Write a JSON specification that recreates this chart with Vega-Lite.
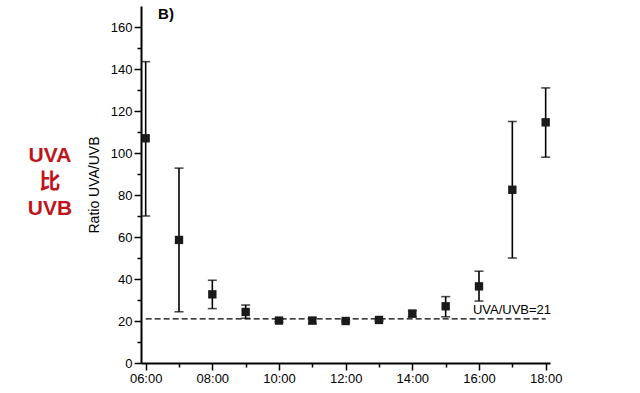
{
  "$schema": "https://vega.github.io/schema/vega-lite/v6.json",
  "autosize": "none",
  "width": 409,
  "height": 357,
  "padding": {"left": 141, "top": 6, "right": 90, "bottom": 30},
  "background": "white",
  "config": {
    "view": {"stroke": null},
    "font": "Liberation Sans",
    "axis": {"grid": false, "domainColor": "black", "domainWidth": 2, "tickColor": "black", "tickWidth": 1.5, "labelColor": "black", "labelFont": "Liberation Sans", "labelFontSize": 13, "titleColor": "black", "titleFont": "Liberation Sans", "titleFontWeight": "normal", "titleFontSize": 14}
  },
  "datasets": {
    "obs": [
      {"hour": 6, "ratio": 107, "lo": 70, "hi": 143.5},
      {"hour": 7, "ratio": 58.6, "lo": 24.4, "hi": 92.8},
      {"hour": 8, "ratio": 32.7, "lo": 25.9, "hi": 39.4},
      {"hour": 9, "ratio": 24.3, "lo": 21.3, "hi": 27.6},
      {"hour": 10, "ratio": 20.2, "lo": 19.6, "hi": 20.8},
      {"hour": 11, "ratio": 20.2, "lo": 18.8, "hi": 21.6},
      {"hour": 12, "ratio": 20.0, "lo": 19.5, "hi": 20.5},
      {"hour": 13, "ratio": 20.5, "lo": 20.0, "hi": 21.0},
      {"hour": 14, "ratio": 23.5, "lo": 22.0, "hi": 25.0},
      {"hour": 15, "ratio": 27.0, "lo": 22.0, "hi": 31.6},
      {"hour": 16, "ratio": 36.5, "lo": 29.5, "hi": 43.7},
      {"hour": 17, "ratio": 82.5, "lo": 50.0, "hi": 115.0},
      {"hour": 18, "ratio": 114.6, "lo": 98.0, "hi": 131.0}
    ],
    "ref": [
      {"hour": 6, "ratio": 21},
      {"hour": 18, "ratio": 21}
    ],
    "redtext": [
      {"hour": 3.13, "ratio": 98.6, "label": "UVA"},
      {"hour": 3.13, "ratio": 86.0, "label": "比"},
      {"hour": 3.13, "ratio": 73.3, "label": "UVB"}
    ],
    "linelabel": [
      {"hour": 16.99, "ratio": 25.2, "label": "UVA/UVB=21"}
    ],
    "panel": [
      {"hour": 6.61, "ratio": 166.2, "label": "B)"}
    ]
  },
  "layer": [
    {
      "data": {"name": "ref"},
      "mark": {"type": "line", "color": "black", "strokeWidth": 1.3, "strokeDash": [6, 3]},
      "encoding": {
        "x": {"field": "hour", "type": "quantitative", "scale": {"domain": [5.86, 18.13], "nice": false, "zero": false},
              "axis": {"values": [7, 9, 11, 13, 15, 17], "labels": false, "domain": false, "tickSize": 4, "orient": "bottom", "title": null}},
        "y": {"field": "ratio", "type": "quantitative", "scale": {"domain": [0, 170], "nice": false},
              "axis": {"values": [10, 30, 50, 70, 90, 110, 130, 150], "labels": false, "domain": false, "tickSize": 4, "orient": "left", "title": null}}
      }
    },
    {
      "data": {"name": "obs"},
      "mark": {"type": "rule", "color": "black", "strokeWidth": 1.6},
      "encoding": {
        "x": {"field": "hour", "type": "quantitative", "axis": null},
        "y": {"field": "lo", "type": "quantitative", "axis": null},
        "y2": {"field": "hi"}
      }
    },
    {
      "data": {"name": "obs"},
      "mark": {"type": "tick", "orient": "horizontal", "color": "black", "size": 9, "thickness": 1.6},
      "encoding": {
        "x": {"field": "hour", "type": "quantitative", "axis": null},
        "y": {"field": "lo", "type": "quantitative", "axis": null}
      }
    },
    {
      "data": {"name": "obs"},
      "mark": {"type": "tick", "orient": "horizontal", "color": "black", "size": 9, "thickness": 1.6},
      "encoding": {
        "x": {"field": "hour", "type": "quantitative", "axis": null},
        "y": {"field": "hi", "type": "quantitative", "axis": null}
      }
    },
    {
      "data": {"name": "obs"},
      "mark": {"type": "square", "color": "#1a1a1a", "opacity": 1, "size": 70},
      "encoding": {
        "x": {"field": "hour", "type": "quantitative",
              "axis": {"values": [6, 8, 10, 12, 14, 16, 18], "labelExpr": "(datum.value < 10 ? '0' : '') + datum.value + ':00'", "tickSize": 7, "labelPadding": 2, "orient": "bottom", "title": null}},
        "y": {"field": "ratio", "type": "quantitative",
              "axis": {"values": [0, 20, 40, 60, 80, 100, 120, 140, 160], "tickSize": 7, "labelPadding": 2, "orient": "left", "title": "Ratio UVA/UVB", "titlePadding": 9}}
      }
    },
    {
      "data": {"name": "redtext"},
      "mark": {"type": "text", "color": "#c0141c", "fontSize": 21, "fontWeight": "bold", "font": "Liberation Sans, Noto Sans CJK SC", "align": "center", "baseline": "middle"},
      "encoding": {
        "x": {"field": "hour", "type": "quantitative", "axis": null},
        "y": {"field": "ratio", "type": "quantitative", "axis": null},
        "text": {"field": "label"}
      }
    },
    {
      "data": {"name": "linelabel"},
      "mark": {"type": "text", "color": "black", "fontSize": 13, "align": "center", "baseline": "middle"},
      "encoding": {
        "x": {"field": "hour", "type": "quantitative", "axis": null},
        "y": {"field": "ratio", "type": "quantitative", "axis": null},
        "text": {"field": "label"}
      }
    },
    {
      "data": {"name": "panel"},
      "mark": {"type": "text", "color": "black", "fontSize": 15, "fontWeight": "bold", "align": "center", "baseline": "middle"},
      "encoding": {
        "x": {"field": "hour", "type": "quantitative", "axis": null},
        "y": {"field": "ratio", "type": "quantitative", "axis": null},
        "text": {"field": "label"}
      }
    }
  ],
  "resolve": {"axis": {"x": "independent", "y": "independent"}}
}
